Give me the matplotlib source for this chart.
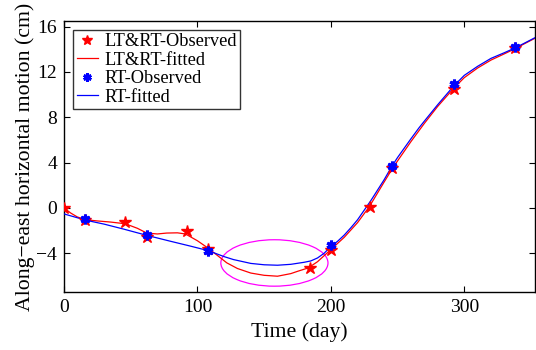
import matplotlib
matplotlib.use("Agg")
import matplotlib.pyplot as plt
from matplotlib.patches import Ellipse
from matplotlib.lines import Line2D

plt.rcParams['font.family'] = ['Liberation Serif', 'DejaVu Serif']
plt.rcParams['mathtext.fontset'] = 'stix'

# Observed points
ltrt_days = [0, 16, 46, 62, 92, 108, 184, 200, 229, 246, 292, 338]
ltrt_obs = [0.0, -1.1, -1.2, -2.56, -2.06, -3.65, -5.3, -3.68, 0.1, 3.55, 10.5, 14.1]
rt_days = [16, 62, 108, 200, 246, 292, 338]
rt_obs = [-1.0, -2.4, -3.77, -3.3, 3.73, 10.9, 14.2]

# Fitted curves
ltrt_fit_days = [0, 5, 10, 16.5, 25, 35, 46, 55, 62, 70, 77, 85, 91, 100, 108, 115,
                 122, 130, 140, 150, 160, 170, 175, 183, 190, 200, 210, 220, 229,
                 240, 246, 250, 260, 270, 280, 292, 300, 310, 320, 330, 338, 346, 355]
ltrt_fit = [0.0, -0.45, -0.8, -1.05, -1.15, -1.25, -1.4, -1.8, -2.22, -2.3, -2.22, -2.2,
            -2.3, -2.9, -3.55, -4.2, -4.85, -5.35, -5.75, -5.95, -6.03, -5.8, -5.6,
            -5.3, -4.75, -3.68, -2.6, -1.3, 0.14, 2.3, 3.45, 4.15, 5.85, 7.45, 8.95,
            10.55, 11.5, 12.35, 13.05, 13.6, 14.05, 14.55, 15.1]
rt_fit_days = [0, 16.5, 30, 45, 62, 80, 95, 108, 120, 127, 140, 150, 160, 170, 180,
               185, 190, 195, 200, 205, 210, 215, 220, 225, 230, 240, 246, 250, 260,
               266, 270, 280, 292, 300, 310, 320, 330, 338, 346, 355]
rt_fit = [-0.53, -1.09, -1.43, -1.88, -2.42, -2.95, -3.38, -3.77, -4.3, -4.56, -4.9,
          -5.02, -5.06, -4.98, -4.8, -4.68, -4.42, -4.0, -3.4, -2.95, -2.4, -1.75,
          -1.05, -0.2, 0.65, 2.5, 3.73, 4.45, 6.1, 7.06, 7.65, 9.1, 10.75, 11.7,
          12.5, 13.2, 13.7, 14.12, 14.6, 15.15]

xticks = [0, 100, 200, 300]
yticks = [-4, 0, 4, 8, 12, 16]

fig = plt.figure(figsize=(5.36, 3.5), dpi=100)
ax = fig.add_axes([64/536, 1-292.3/350, (535-64)/536, (292.3-21)/350])

ax.plot(ltrt_fit_days, ltrt_fit, color='red', lw=0.9, zorder=2)
ax.plot(rt_fit_days, rt_fit, color='blue', lw=0.9, zorder=3)
ax.plot(ltrt_days, ltrt_obs, linestyle='none', marker='*', color='red', ms=9, zorder=4)
ax.plot(rt_days, rt_obs, linestyle='none', marker=(6, 2, 0), color='blue', mew=2.2, ms=7, zorder=5)

ax.add_patch(Ellipse((157.7, -4.86), 80.3, 4.1, fill=False, edgecolor='#ff00ff', lw=0.9, zorder=1))

ax.set_xlim(0, 353)
ax.set_ylim(-7.45, 16.5)
ax.set_xticks(xticks)
ax.set_yticks(yticks)
ax.set_yticklabels([str(v).replace('-', '\u2212') for v in yticks])
ax.tick_params(direction='in', top=True, right=True, labelsize=14, length=4, width=0.8, pad=5)
for s in ax.spines.values():
    s.set_linewidth(1.0)

ax.set_xlabel('Time (day)', fontsize=15.7, labelpad=4)
ax.set_ylabel('Along\u2212east horizontal motion (cm)', fontsize=15.7, labelpad=1)

handles = [
    Line2D([], [], linestyle='none', marker='*', color='red', ms=7),
    Line2D([], [], color='red', lw=0.9),
    Line2D([], [], linestyle='none', marker=(6, 2, 0), color='blue', mew=2, ms=6),
    Line2D([], [], color='blue', lw=0.9),
]
labels = ['LT&RT-Observed', 'LT&RT-fitted', 'RT-Observed', 'RT-fitted']
leg = ax.legend(handles, labels, loc='upper left', bbox_to_anchor=(0.019, 0.968),
                fontsize=13.2, frameon=True, fancybox=False, edgecolor='black',
                borderpad=0.2, labelspacing=0.08, handlelength=1.15, handletextpad=0.35,
                borderaxespad=0.0)
leg.get_frame().set_linewidth(1.0)

fig.savefig('out.png', dpi=100)
